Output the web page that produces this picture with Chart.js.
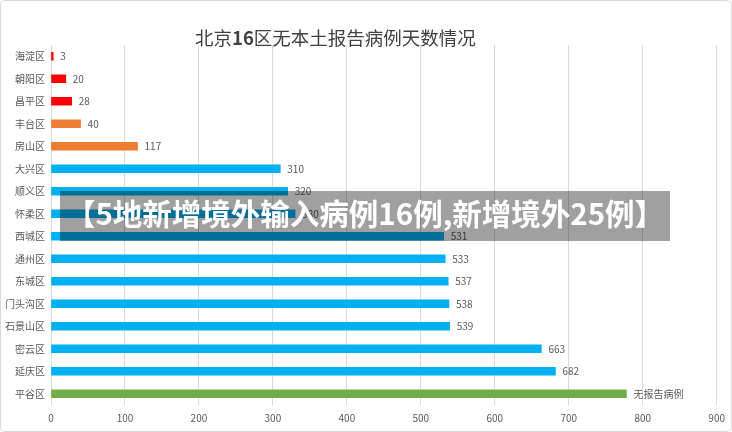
<!DOCTYPE html>
<html>
<head>
<meta charset="utf-8">
<script src="https://cdn.jsdelivr.net/npm/chart.js@4"></script>
<style>
  body { margin: 0; background: #fff; }
  #wrap { position: relative; width: 732px; height: 432px; }
  #frame { position: absolute; left: 0; top: 0; width: 732px; height: 432px; box-sizing: border-box;
           border: 1px solid #d9d9d9; border-radius: 5px; pointer-events: none; }
  #title { position: absolute; left: 195px; top: 25px; white-space: nowrap; color: #404040;
           font: 18.5px/24px "Noto Sans CJK SC", sans-serif; }
  #title b { font-weight: bold; }
  #bannerBg { position: absolute; left: 60px; top: 191px; width: 610px; height: 50px;
              background: #a0a0a0; mix-blend-mode: multiply; }
  #bannerText { position: absolute; left: 60px; top: 191px; width: 610px; height: 50px;
                line-height: 50px; text-align: center; white-space: nowrap; color: #fff;
                font: bold 29.5px "Noto Sans CJK SC", sans-serif; }
</style>
</head>
<body>
<div id="wrap">
  <canvas id="myChart" width="732" height="432"></canvas>
  <div id="title">北京<b>16</b>区无本土报告病例天数情况</div>
  <div id="bannerBg"></div>
  <div id="bannerText">【5地新增境外输入病例16例,新增境外25例】</div>
  <div id="frame"></div>
</div>
<script>
const districts = ['海淀区', '朝阳区', '昌平区', '丰台区', '房山区', '大兴区', '顺义区', '怀柔区',
    '西城区', '通州区', '东城区', '门头沟区', '石景山区', '密云区', '延庆区', '平谷区'];
const days = [3, 20, 28, 40, 117, 310, 320, 330, 531, 533, 537, 538, 539, 663, 682, 778];
const dayLabels = ['3', '20', '28', '40', '117', '310', '320', '330', '531', '533', '537', '538',
    '539', '663', '682', '无报告病例'];
const barColors = ['#ff0000', '#ff0000', '#ff0000', '#ed7d31', '#ed7d31',
    '#00b0f0', '#00b0f0', '#00b0f0', '#00b0f0', '#00b0f0', '#00b0f0', '#00b0f0',
    '#00b0f0', '#00b0f0', '#00b0f0', '#70ad47'];
const xTicks = [0, 100, 200, 300, 400, 500, 600, 700, 800, 900];

const cjk = '"Noto Sans CJK SC", sans-serif';

// value labels at the end of each bar
const barLabels = {
    id: 'barLabels',
    afterDatasetsDraw(chart) {
        const ctx = chart.ctx;
        const meta = chart.getDatasetMeta(0);
        ctx.save();
        ctx.font = '10px ' + cjk;
        ctx.fillStyle = '#595959';
        ctx.textBaseline = 'middle';
        ctx.textAlign = 'left';
        meta.data.forEach((bar, i) => {
            ctx.fillText(dayLabels[i], bar.x + 7, bar.y);
        });
        ctx.restore();
    }
};

const config = {
    type: 'bar',
    data: {
        labels: districts,
        datasets: [{
            data: days,
            backgroundColor: barColors,
            barThickness: 8
        }]
    },
    options: {
        indexAxis: 'y',
        responsive: false,
        animation: false,
        layout: { padding: { left: 0, right: 14, top: 45, bottom: 0 } },
        plugins: {
            legend: { display: false },
            tooltip: { enabled: false },
            title: { display: false }
        },
        scales: {
            x: {
                min: 0,
                max: 900,
                afterBuildTicks: (scale) => { scale.ticks = xTicks.map(v => ({ value: v })); },
                afterFit: (scale) => { scale.height = 27; },
                border: { display: false },
                grid: { color: '#d9d9d9', drawTicks: false },
                ticks: { color: '#595959', font: { family: cjk, size: 10 }, padding: 7 }
            },
            y: {
                afterFit: (scale) => { scale.width = 51; },
                border: { display: false },
                grid: { display: false, drawTicks: false },
                ticks: { color: '#595959', font: { family: cjk, size: 10 }, padding: 6 }
            }
        }
    },
    plugins: [barLabels]
};

window.myChart = new Chart(document.getElementById('myChart'), config);
</script>
</body>
</html>
